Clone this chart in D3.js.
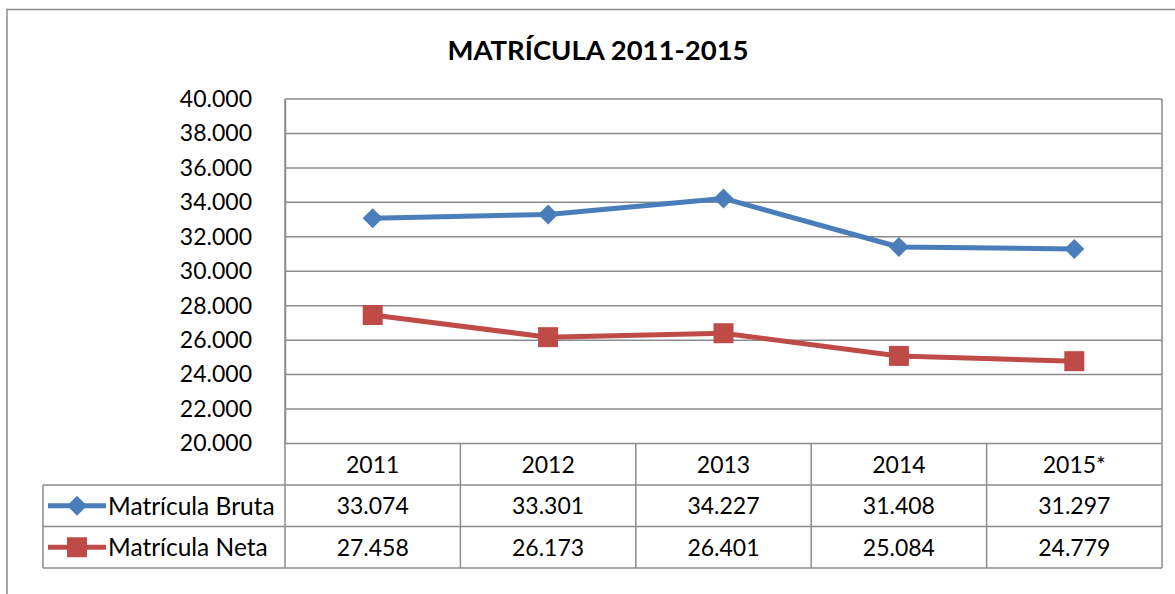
<!DOCTYPE html>
<html>
<head>
<meta charset="utf-8">
<script src="https://cdn.jsdelivr.net/npm/d3@7"></script>
<style>
  body { margin: 0; background: #fff; }
  text { font-family: Lato, "Open Sans", sans-serif; fill: #000; }
</style>
</head>
<body>
<div id="chart"></div>
<script>
'use strict';

// chart data
const years = ['2011', '2012', '2013', '2014', '2015*'];
const bruta = [33074, 33301, 34227, 31408, 31297];
const neta = [27458, 26173, 26401, 25084, 24779];
const yTicks = [20000, 22000, 24000, 26000, 28000, 30000, 32000, 34000, 36000, 38000, 40000];
const seriesNames = ['Matrícula Bruta', 'Matrícula Neta'];
const seriesColors = ['#4a7ebb', '#be4b48'];

const width = 1175, height = 594;
const plotLeft = 285, plotRight = 1162, plotTop = 99, plotBottom = 443.5;
const rowH = 41.5;

const loc = d3.formatLocale({decimal: ',', thousands: '.', grouping: [3], currency: ['', '']});
const fmt = loc.format(',');

const svg = d3.select('#chart').append('svg')
    .attr('width', width)
    .attr('height', height);

// outer frame
svg.append('rect')
    .attr('x', 7).attr('y', 9.5)
    .attr('width', 1170).attr('height', 600)
    .attr('fill', 'none')
    .attr('stroke', '#8c8c8c').attr('stroke-width', 1.5);

svg.append('text')
    .attr('x', 598).attr('y', 60)
    .attr('text-anchor', 'middle')
    .style('font-size', '27.5px').style('font-weight', 'bold')
    .text('MATRÍCULA 2011-2015');

const x = d3.scaleBand().domain(years).range([plotLeft, plotRight]);
const y = d3.scaleLinear().domain([20000, 40000]).range([plotBottom, plotTop]);

// gridlines
svg.append('g').selectAll('line')
    .data(yTicks)
    .enter().append('line')
      .attr('x1', plotLeft).attr('x2', plotRight)
      .attr('y1', d => y(d)).attr('y2', d => y(d))
      .attr('stroke', '#8c8c8c').attr('stroke-width', 1.5);

// y axis
const yAxis = svg.append('g')
    .attr('transform', 'translate(' + plotLeft + ',0)')
    .call(d3.axisLeft(y).tickValues(yTicks).tickFormat(fmt).tickSize(0).tickPadding(33));
yAxis.select('.domain').attr('stroke', '#8c8c8c').attr('stroke-width', 1.5);
yAxis.selectAll('text').style('font-size', '23px').attr('fill', '#000');

// data table
const tableBottom = plotBottom + rowH * 3;
const tbl = svg.append('g');
// horizontal lines
[plotBottom + rowH, plotBottom + rowH * 2, tableBottom].forEach(function(yy) {
    tbl.append('line')
        .attr('x1', 43).attr('x2', plotRight)
        .attr('y1', yy).attr('y2', yy)
        .attr('stroke', '#8c8c8c').attr('stroke-width', 1.5);
});
tbl.append('line')
    .attr('x1', plotRight).attr('x2', plotRight)
    .attr('y1', plotTop).attr('y2', tableBottom)
    .attr('stroke', '#8c8c8c').attr('stroke-width', 1.5);
tbl.append('line')
    .attr('x1', plotLeft).attr('x2', plotLeft)
    .attr('y1', plotTop).attr('y2', tableBottom)
    .attr('stroke', '#8c8c8c').attr('stroke-width', 1.5);
tbl.append('line')
    .attr('x1', 43).attr('x2', 43)
    .attr('y1', plotBottom + rowH).attr('y2', tableBottom)
    .attr('stroke', '#8c8c8c').attr('stroke-width', 1.5);
tbl.selectAll('line.col')
    .data(years.slice(1))
    .enter().append('line')
      .attr('class', 'col')
      .attr('x1', d => x(d)).attr('x2', d => x(d))
      .attr('y1', plotBottom).attr('y2', tableBottom)
      .attr('stroke', '#8c8c8c').attr('stroke-width', 1.5);

// header row
tbl.selectAll('text.yr')
    .data(years)
    .enter().append('text')
      .attr('class', 'yr')
      .attr('x', d => x(d) + x.bandwidth() / 2)
      .attr('y', plotBottom + rowH / 2)
      .attr('dy', '0.36em')
      .attr('text-anchor', 'middle')
      .style('font-size', '23px')
      .text(d => d);

const series = [bruta, neta];
series.forEach(function(vals, i) {
    const rowY = plotBottom + rowH * (i + 1) + rowH / 2;
    tbl.selectAll('text.v' + i)
        .data(vals)
        .enter().append('text')
          .attr('class', 'v' + i)
          .attr('x', (d, j) => x(years[j]) + x.bandwidth() / 2)
          .attr('y', rowY)
          .attr('dy', '0.36em')
          .attr('text-anchor', 'middle')
          .style('font-size', '23px')
          .text(d => fmt(d));

    // legend key
    tbl.append('line')
        .attr('x1', 48).attr('x2', 106)
        .attr('y1', rowY).attr('y2', rowY)
        .attr('stroke', seriesColors[i]).attr('stroke-width', 5);
    tbl.append('path')
        .attr('transform', 'translate(77,' + rowY + ')')
        .attr('d', i === 0 ? 'M0,-10L10,0L0,10L-10,0Z' : 'M-10,-10H10V10H-10Z')
        .attr('fill', seriesColors[i]);
    tbl.append('text')
        .attr('x', 108).attr('y', rowY)
        .attr('dy', '0.36em')
        .style('font-size', '24.5px')
        .text(seriesNames[i]);
});

// lines
const line = d3.line()
    .x((d, j) => x(years[j]) + x.bandwidth() / 2)
    .y(d => y(d));

series.forEach(function(vals, i) {
    svg.append('path')
        .datum(vals)
        .attr('d', line)
        .attr('fill', 'none')
        .attr('stroke', seriesColors[i])
        .attr('stroke-width', 5)
        .attr('stroke-linejoin', 'round');

    svg.selectAll('path.m' + i)
        .data(vals)
        .enter().append('path')
          .attr('class', 'm' + i)
          .attr('transform', (d, j) => 'translate(' + (x(years[j]) + x.bandwidth() / 2) + ',' + y(d) + ')')
          .attr('d', i === 0 ? 'M0,-10L10,0L0,10L-10,0Z' : 'M-10,-10H10V10H-10Z')
          .attr('fill', seriesColors[i]);
});
</script>
</body>
</html>
